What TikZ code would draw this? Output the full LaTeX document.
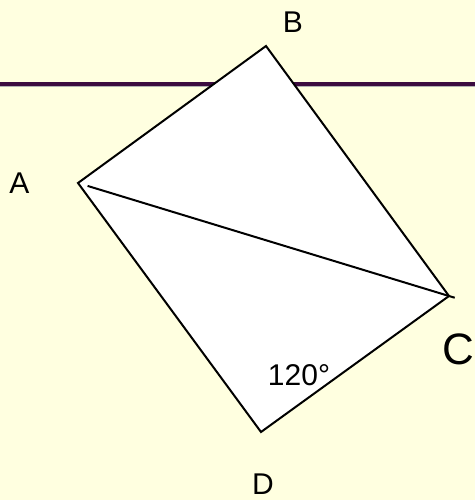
\documentclass[tikz,border=0pt]{standalone}
\usepackage{fontspec}
\setmainfont{Liberation Sans}
\usepackage{tikz}
\usetikzlibrary{calc}
\definecolor{slideBg}{RGB}{255,255,224}
\definecolor{barPurple}{RGB}{60,12,64}

\begin{document}
\begin{tikzpicture}[x=1pt,y=-1pt,
  cornerLbl/.style={font=\fontsize{30}{30}\selectfont, inner sep=0pt},
  bigLbl/.style={font=\fontsize{44}{44}\selectfont, inner sep=0pt},
  quadEdge/.style={draw=black, line width=2pt, line join=miter},
]

% background of the slide
\fill[slideBg] (0,0) rectangle (475,500);
\useasboundingbox (0,0) rectangle (475,500);

% title bar
\draw[gray!60, line width=5.5pt] (0,84.5) -- (475,84.5);
\draw[barPurple, line width=4pt] (0,84.5) -- (475,84.5);

% corners
\coordinate (A) at (78,183);
\coordinate (B) at (266,46);
\coordinate (C) at (449,296);
\coordinate (D) at (261,432);

\filldraw[quadEdge, fill=white] (A) -- (B) -- (C) -- (D) -- cycle;
\draw[quadEdge, shorten <=10pt, shorten >=-6pt] (A) -- (C);

% labels
\node[cornerLbl] (lblA) at (19.5,183) {A};
\node[cornerLbl] (lblB) at (293,22) {B};
\node[bigLbl] (lblC) at (458,349.5) {C};
\node[cornerLbl] (lblD) at (263,484) {D};
\node[cornerLbl] (angD) at (299,375) {120°};

\end{tikzpicture}
\end{document}
